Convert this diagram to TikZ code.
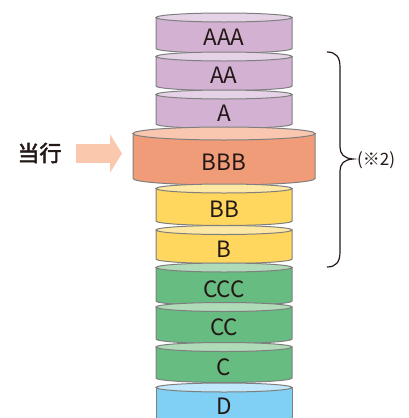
\documentclass[tikz,border=0pt]{standalone}
\usepackage{fontspec}
\setmainfont{Noto Sans CJK JP}
\newfontfamily\jpsemi[FakeBold=2.2]{Noto Sans CJK JP}
\usetikzlibrary{arrows.meta}
\definecolor{purpBody}{HTML}{D3B1D3}
\definecolor{purpTop}{HTML}{E6D2E6}
\definecolor{salBody}{HTML}{F19C78}
\definecolor{salTop}{HTML}{F9C6AF}
\definecolor{yelBody}{HTML}{FFD75F}
\definecolor{yelTop}{HTML}{FFE8A3}
\definecolor{grnBody}{HTML}{66BC81}
\definecolor{grnTop}{HTML}{B0DBB9}
\definecolor{bluBody}{HTML}{80CFF5}
\definecolor{bluTop}{HTML}{C0E7FA}
\definecolor{arrowCol}{HTML}{FAC8AC}
\definecolor{edgeCol}{HTML}{7F7F7F}
\definecolor{txtCol}{HTML}{231815}
\tikzset{
  cyledge/.style={draw=edgeCol,line width=1pt},
  lbl/.style={text=txtCol,font=\fontsize{22.5}{26}\selectfont,inner sep=0pt},
  sidelbl/.style={text=txtCol,font=\fontsize{22}{26}\selectfont\jpsemi,inner sep=0pt},
  notelbl/.style={text=txtCol,font=\fontsize{17}{20}\selectfont,inner sep=0pt,anchor=west},
  bracestyle/.style={draw=txtCol,line width=1.2pt},
}
% #1 cx, #2 y top, #3 y bottom, #4 rx, #5 ry, #6 body, #7 top, #8 name, #9 text
\newcommand\mycyl[9]{%
  \filldraw[fill=#6,cyledge] ({#1-#4},{-#2}) -- ({#1-#4},{-#3})
     arc[start angle=180,end angle=360,x radius=#4,y radius=#5] -- ({#1+#4},{-#2}) -- cycle;
  \filldraw[fill=#7,cyledge] (#1,{-#2}) ellipse[x radius=#4,y radius=#5];
  \node[lbl] (#8) at (#1,{-(#2+#3)/2-#5}) {#9};
}
\begin{document}
\begin{tikzpicture}[x=1pt,y=1pt]
\useasboundingbox (0,0) rectangle (408,-418);
\clip (0,0) rectangle (408,-418);
\mycyl{224}{17.5}{48.5}{68}{4.5}{purpBody}{purpTop}{aaa}{AAA}
\mycyl{224}{56.5}{86}{68}{4.5}{purpBody}{purpTop}{aa}{AA}
\mycyl{224}{94.5}{124}{68}{4.5}{purpBody}{purpTop}{a}{A}
\mycyl{224}{133.5}{178.5}{91}{6.5}{salBody}{salTop}{bbb}{BBB}
\mycyl{224}{188.5}{221}{68}{4.5}{yelBody}{yelTop}{bb}{BB}
\mycyl{224}{230}{259}{68}{4.5}{yelBody}{yelTop}{b}{B}
\mycyl{224}{267.5}{301}{68}{4.5}{grnBody}{grnTop}{ccc}{CCC}
\mycyl{224}{307}{339}{68}{4.5}{grnBody}{grnTop}{cc}{CC}
\mycyl{224}{347}{378}{68}{4.5}{grnBody}{grnTop}{c}{C}
% bottom cylinder D (cut by the lower edge)
\filldraw[fill=bluBody,cyledge] (156,-387.5) -- (156,-440) -- (292,-440) -- (292,-387.5) -- cycle;
\filldraw[fill=bluTop,cyledge] (224,-387.5) ellipse[x radius=68,y radius=4.5];
\node[lbl] (d) at (224,-406.5) {D};
% side label and arrow
\node[sidelbl] (dang) at (39.5,-153) {当行};
\coordinate (arrS) at (76,-153.5);
\coordinate (arrE) at (122,-153.5);
\draw[draw=arrowCol,line width=19pt,-{Triangle[length=12pt,width=38pt]}] (arrS) -- (arrE);
% brace
\coordinate (brT) at (327,-52);
\coordinate (brM) at (353,-159);
\coordinate (brB) at (327,-267);
\draw[bracestyle] (brT) .. controls (336,-52) and (340,-57) .. (340,-67)
  -- (340,-147) .. controls (340,-154) and (344,-158.5) .. (brM)
  .. controls (344,-159.5) and (340,-164) .. (340,-171)
  -- (340,-252) .. controls (340,-262) and (336,-267) .. (brB);
\node[notelbl] (note) at (357,-160) {(※2)};
\end{tikzpicture}
\end{document}
